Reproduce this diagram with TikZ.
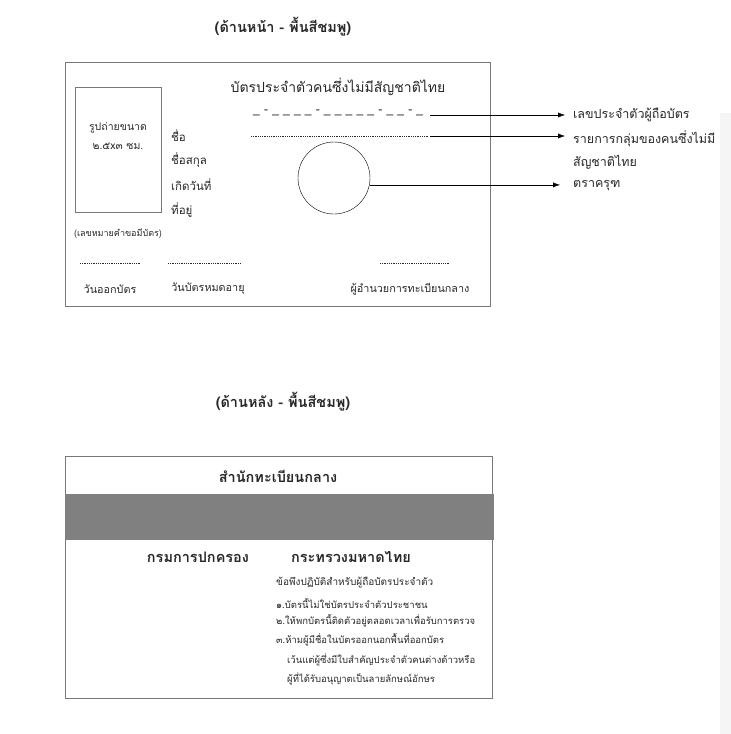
\documentclass[tikz,border=0pt]{standalone}
\usepackage{fontspec}
\newfontfamily\thaifont[Script=Thai]{Loma}
\usetikzlibrary{positioning,arrows.meta}
\definecolor{idText}{RGB}{40,40,40}
\definecolor{idBorder}{RGB}{120,120,120}
\definecolor{idBand}{RGB}{128,128,128}
\definecolor{idPanel}{RGB}{244,245,244}
\newcommand\idgap{\hspace{4.2pt}}
\tikzset{
    base/.style={font=\thaifont, text=idText, inner sep=0pt},
    heading/.style={base, font=\thaifont\bfseries\fontsize{14.5}{17}\selectfont},
    cardtitle/.style={base, font=\thaifont\fontsize{14}{16}\selectfont},
    field/.style={base, font=\thaifont\fontsize{11.5}{14}\selectfont, anchor=west},
    note/.style={base, font=\thaifont\fontsize{12.5}{23}\selectfont, anchor=west},
    small/.style={base, font=\thaifont\fontsize{10.8}{12}\selectfont},
    tiny/.style={base, font=\thaifont\fontsize{10.5}{12}\selectfont},
    ruleline/.style={base, font=\thaifont\fontsize{9.5}{11}\selectfont, anchor=west},
    card/.style={draw=idBorder, thick},
    photo/.style={draw=idBorder, thick, minimum width=86, minimum height=125},
    seal/.style={circle, draw=black, thin, minimum size=72},
    dots/.style={dash pattern=on 0.6pt off 1.2pt, thin, color=idText},
    flow/.style={-{Latex[length=7pt,width=5pt]}, thin, color=black}
}
\begin{document}
\begin{tikzpicture}[x=1pt, y=-1pt]
  \useasboundingbox (0,0) rectangle (731,734);
  \fill[idPanel] (720,113) rectangle (731,734);

  % front side
  \node[heading] (front) at (283,27) {(ด้านหน้า - พื้นสีชมพู)};
  \draw[card] (65,62) rectangle (490,306);
  \node[cardtitle] (title) at (338,87) {บัตรประจำตัวคนซึ่งไม่มีสัญชาติไทย};

  \node[photo] (photo) at (118,149.5) {};
  \node[tiny] (photosize) at (118,128) {รูปถ่ายขนาด};
  \node[tiny] (photocm) at (118,146) {๒.๕x๓ ซม.};
  \node[tiny, font=\thaifont\fontsize{9}{10}\selectfont] (reqno) at (118,234) {(เลขหมายคำขอมีบัตร)};

  \node[field] (name) at (171,136) {ชื่อ};
  \node[field] (surname) at (171,160) {ชื่อสกุล};
  \node[field] (born) at (171,185) {เกิดวันที่};
  \node[field] (addr) at (171,210) {ที่อยู่};

  \node[base, anchor=west, font=\thaifont\fontsize{12}{14}\selectfont] (idno) at (253,113)
    {\_\idgap-\idgap\_\idgap\_\idgap\_\idgap\_\idgap-\idgap\_\idgap\_\idgap\_\idgap\_\idgap\_\idgap-\idgap\_\idgap\_\idgap-\idgap\_};
  \coordinate (groupL) at (251,136);
  \coordinate (groupR) at (428,136);
  \draw[dots] (groupL) -- (groupR);
  \node[seal] (garuda) at (334,178) {};

  \coordinate (issueL) at (80,263);
  \coordinate (issueR) at (141,263);
  \coordinate (expireL) at (168,263);
  \coordinate (expireR) at (241,263);
  \coordinate (signL) at (380,263);
  \coordinate (signR) at (450,263);
  \draw[dots] (issueL) -- (issueR);
  \draw[dots] (expireL) -- (expireR);
  \draw[dots] (signL) -- (signR);
  \node[small] (issue) at (110,289) {วันออกบัตร};
  \node[small] (expire) at (208,289) {วันบัตรหมดอายุ};
  \node[small] (sign) at (410,289) {ผู้อำนวยการทะเบียนกลาง};

  \node[note] (lblid) at (573,115) {เลขประจำตัวผู้ถือบัตร};
  \node[note, align=left, anchor=north west] (lblgroup) at (573,130)
    {รายการกลุ่มของคนซึ่งไม่มี\\สัญชาติไทย};
  \node[note] (lblseal) at (573,186) {ตราครุฑ};

  \coordinate (idarrow) at (430,115);
  \coordinate (grouparrow) at (430,136);
  \draw[flow] (idarrow) -- (565,115);
  \draw[flow] (grouparrow) -- (565,136);
  \draw[flow] (garuda.-11) -- (garuda.-11 -| 560,0);

  % back side
  \node[heading] (back) at (283,402) {(ด้านหลัง - พื้นสีชมพู)};
  \draw[card] (65,456) rectangle (492,698);
  \node[heading] (office) at (278,476) {สำนักทะเบียนกลาง};
  \fill[idBand] (65,494) rectangle (494,540);
  \node[heading] (dept) at (198,557) {กรมการปกครอง};
  \node[heading] (ministry) at (351,557) {กระทรวงมหาดไทย};

  \node[ruleline, font=\thaifont\fontsize{10}{11}\selectfont] (rules) at (276,583) {ข้อพึงปฏิบัติสำหรับผู้ถือบัตรประจำตัว};
  \node[ruleline] (rule1) at (276,603) {๑.บัตรนี้ไม่ใช่บัตรประจำตัวประชาชน};
  \node[ruleline] (rule2) at (276,621) {๒.ให้พกบัตรนี้ติดตัวอยู่ตลอดเวลาเพื่อรับการตรวจ};
  \node[ruleline] (rule3) at (276,640) {๓.ห้ามผู้มีชื่อในบัตรออกนอกพื้นที่ออกบัตร};
  \node[ruleline] (rule3a) at (287,660) {เว้นแต่ผู้ซึ่งมีใบสำคัญประจำตัวคนต่างด้าวหรือ};
  \node[ruleline] (rule3b) at (287,679) {ผู้ที่ได้รับอนุญาตเป็นลายลักษณ์อักษร};
\end{tikzpicture}
\end{document}
